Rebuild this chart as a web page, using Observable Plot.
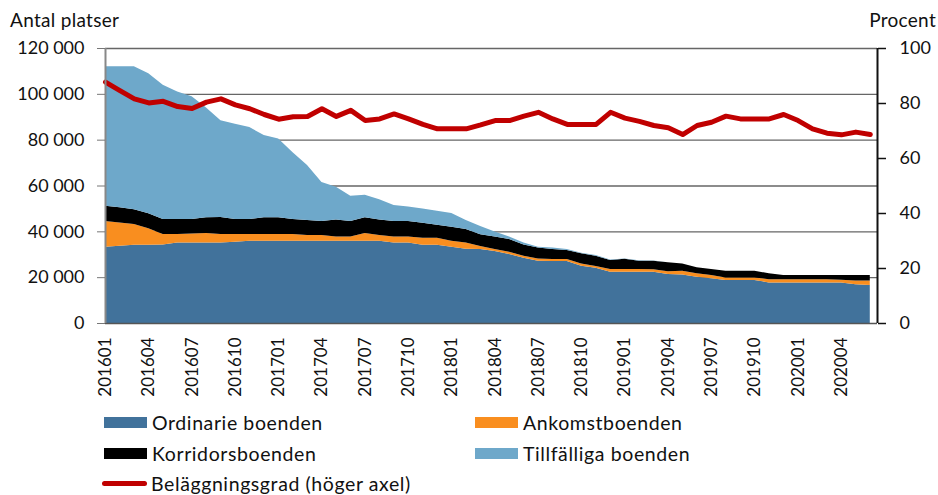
<!DOCTYPE html>
<html>
<head>
<meta charset="utf-8">
<script src="https://cdn.jsdelivr.net/npm/d3@7"></script>
<script src="https://cdn.jsdelivr.net/npm/@observablehq/plot@0.6"></script>
<style>
  body { margin: 0; width: 938px; height: 495px; position: relative; background: white; font-family: Lato, "DejaVu Sans", sans-serif; color: #111; overflow: hidden; }
  .ttl { position: absolute; top: 8px; font-size: 19px; letter-spacing: 0.3px; z-index: 5; }
  #chart { position: absolute; left: 0; top: 0; z-index: 1; }
  .lg { position: absolute; font-size: 19.5px; letter-spacing: 0.6px; display: flex; align-items: center; height: 24px; z-index: 5; }
  .sw { display: inline-block; width: 43px; height: 11px; margin-right: 5px; }
  .ln { display: inline-block; width: 45px; height: 5px; border-radius: 3px; margin-right: 4px; }
</style>
</head>
<body>
<div class="ttl" style="left:10px;">Antal platser</div>
<div class="ttl" style="right:2px;">Procent</div>
<div id="chart"></div>
<div id="legend"></div>
<script>
const months = ["201601","201602","201603","201604","201605","201606","201607","201608","201609","201610","201611","201612",
"201701","201702","201703","201704","201705","201706","201707","201708","201709","201710","201711","201712",
"201801","201802","201803","201804","201805","201806","201807","201808","201809","201810","201811","201812",
"201901","201902","201903","201904","201905","201906","201907","201908","201909","201910","201911","201912",
"202001","202002","202003","202004","202005","202006"];

const ordinarie = [33300,33700,34200,34200,34300,35100,35100,35100,35100,35500,35900,35900,
35900,35900,35900,35900,35900,35900,35900,35900,35100,35100,34200,34200,
33300,32400,32300,31400,30100,28500,27200,27100,27100,25000,24100,22400,
22400,22400,22400,21400,21200,20200,19500,18800,18800,18800,17700,17700,
17700,17700,17700,17700,16900,16600];
const ankomst = [11200,10200,9000,7100,4500,3700,4000,4200,3700,3300,2900,2900,
2900,2900,2500,2500,1800,1800,3400,2500,2600,2600,3000,3000,
2600,2700,1300,900,1000,900,1000,800,800,1000,800,1200,
1200,1200,1100,1200,1600,1500,1400,1100,1100,1100,1400,1400,
1400,1400,1400,1200,1600,1900];
const korridor = [6700,6600,6400,6600,6600,6600,6300,6800,7500,6600,6600,7300,
7300,6600,6500,6100,7500,6800,6800,6800,6800,6800,6600,5700,
6100,5900,5100,5400,5600,4900,4800,4400,4000,4400,4500,3900,
4400,3600,3700,3900,3200,2600,2700,2900,2900,2900,2600,1800,
1800,1800,1800,2000,2400,2400];
const tillfalliga = [60800,61500,62400,61100,58600,55600,53600,47900,42200,41600,40100,35900,
34400,29100,24100,17000,14300,11000,9900,8800,7000,6300,6200,6100,
6000,4000,3600,2200,1000,800,300,700,400,300,300,200,
200,200,100,0,0,0,0,0,0,0,0,0,
0,0,0,0,0,0];
const belaggning = [87.8,84.7,81.7,80.2,80.8,78.9,78.2,80.5,81.7,79.5,78.1,76.0,
74.3,75.2,75.3,78.1,75.3,77.5,73.8,74.4,76.2,74.4,72.4,70.8,
70.8,70.8,72.2,73.8,73.8,75.4,76.8,74.4,72.4,72.4,72.4,76.8,
74.7,73.5,72.0,71.2,68.7,72.0,73.2,75.4,74.4,74.4,74.4,76.0,
73.8,70.8,69.2,68.6,69.6,68.7];

const seriesNames = ["Ordinarie boenden","Ankomstboenden","Korridorsboenden","Tillfälliga boenden"];
const seriesColors = ["#41729b","#f98e1f","#000000","#6ea8ca"];
const lineName = "Beläggningsgrad (höger axel)";
const lineColor = "#c00000";

const leftTicks = [0,20000,40000,60000,80000,100000,120000];
const rightTicks = [0,20,40,60,80,100];
const tickMonths = ["201601","201604","201607","201610","201701","201704","201707","201710",
"201801","201804","201807","201810","201901","201904","201907","201910","202001","202004"];

const yMax = 120000, pctMax = 100;
const k = yMax / pctMax;
const xEnd = months.length - 0.5;

const seriesValues = [ordinarie, ankomst, korridor, tillfalliga];
const rows = [];
months.forEach((m, i) => {
  seriesValues.forEach((arr, s) => rows.push({i, s: seriesNames[s], v: arr[i]}));
});
const lineRows = belaggning.map((p, i) => ({i, p}));

const loc = d3.formatLocale({decimal: ",", thousands: " ", grouping: [3], currency: ["", ""]});
const fmt = loc.format(",");

const chart = Plot.plot({
  width: 938,
  height: 405,
  marginLeft: 105,
  marginRight: 61,
  marginTop: 48,
  marginBottom: 82,
  style: {fontFamily: "Lato, 'DejaVu Sans', sans-serif", fontSize: "18px", color: "#111", background: "transparent", overflow: "visible"},
  x: {type: "linear", domain: [0, xEnd]},
  y: {domain: [0, yMax]},
  color: {domain: seriesNames, range: seriesColors},
  marks: [
    Plot.gridY({ticks: leftTicks.slice(1), stroke: "#666", strokeOpacity: 1, strokeWidth: 1.4}),
    Plot.areaY(rows, {x: "i", y: "v", fill: "s", order: seriesNames, curve: "linear"}),
    Plot.lineY(lineRows, {x: "i", y: d => d.p * k, stroke: lineColor, strokeWidth: 5, strokeLinecap: "round", strokeLinejoin: "round"}),
    Plot.ruleY([0], {stroke: "#555", strokeWidth: 1.6}),
    Plot.ruleX([0], {stroke: "#888", strokeWidth: 2}),
    Plot.ruleX([xEnd], {stroke: "#111", strokeWidth: 2}),
    Plot.axisY({anchor: "left", ticks: leftTicks, tickFormat: fmt, tickSize: 8, tickPadding: 13, stroke: "#777", label: null}),
    Plot.axisY({anchor: "right", ticks: rightTicks.map(p => p * k), tickFormat: d => Math.round(d / k), tickSize: 8, tickPadding: 14, stroke: "#111", strokeWidth: 1.5, label: null}),
    Plot.axisX({ticks: tickMonths.map(m => months.indexOf(m)), tickFormat: i => months[i], tickRotate: -90, tickSize: 0, tickPadding: 14, label: null, fontSize: 17})
  ]
});
document.getElementById("chart").appendChild(chart);

// legend
const legend = document.getElementById("legend");
const items = [
  {name: seriesNames[0], color: seriesColors[0], x: 104, y: 410},
  {name: seriesNames[1], color: seriesColors[1], x: 475, y: 410},
  {name: seriesNames[2], color: seriesColors[2], x: 104, y: 441},
  {name: seriesNames[3], color: seriesColors[3], x: 475, y: 441},
  {name: lineName, color: lineColor, x: 102, y: 471, line: true}
];
items.forEach(it => {
  const d = document.createElement("div");
  d.className = "lg";
  d.style.left = it.x + "px";
  d.style.top = it.y + "px";
  const sw = document.createElement("span");
  sw.className = it.line ? "ln" : "sw";
  sw.style.background = it.color;
  d.appendChild(sw);
  d.appendChild(document.createTextNode(it.name));
  legend.appendChild(d);
});
</script>
</body>
</html>
